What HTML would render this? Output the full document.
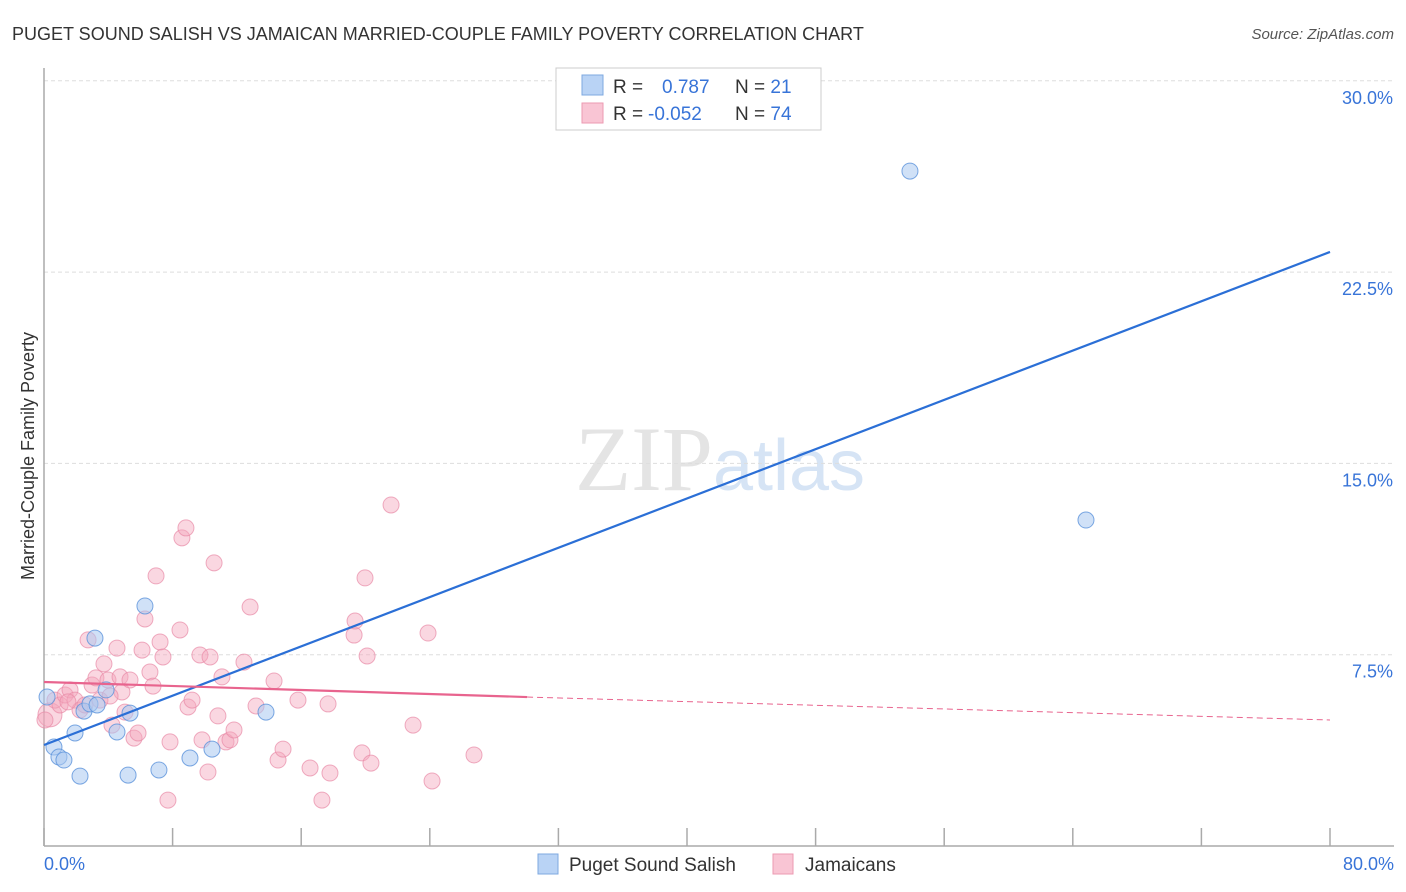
<!DOCTYPE html>
<html><head><meta charset="utf-8"><style>
body{margin:0;background:#fff;font-family:"Liberation Sans",sans-serif}
svg{display:block}
</style></head><body>
<svg id="c" width="1406" height="892" xmlns="http://www.w3.org/2000/svg">
<text x="12" y="40" font-size="18" fill="#333">PUGET SOUND SALISH VS JAMAICAN MARRIED-COUPLE FAMILY POVERTY CORRELATION CHART</text>
<text x="1394" y="39" font-size="15" fill="#555" font-style="italic" text-anchor="end">Source: ZipAtlas.com</text>
<text x="720" y="490" font-size="92" fill="#e4e4e4" text-anchor="middle" font-family="Liberation Serif,serif">ZIP<tspan fill="#d6e4f5" font-family="Liberation Sans,sans-serif" font-size="72">atlas</tspan></text>
<text transform="translate(34,456) rotate(-90)" font-size="18" fill="#333" text-anchor="middle">Married-Couple Family Poverty</text>
<g id="grid"></g><g id="axes"></g><g id="pts"></g><g id="lines"></g>
<g>
<rect x="556" y="68" width="265" height="62" fill="#fff" stroke="#ccc"/>
<rect x="582" y="75" width="21" height="20" fill="#b9d3f5" stroke="#7ea8e0"/>
<rect x="582" y="103" width="21" height="20" fill="#f9c5d4" stroke="#ec9ab2"/>
<text x="613" y="93" font-size="19" fill="#333">R = <tspan fill="#3874d8" x="662">0.787</tspan><tspan x="735" fill="#333">N = </tspan><tspan fill="#3874d8">21</tspan></text>
<text x="613" y="120" font-size="19" fill="#333">R = <tspan fill="#3874d8" x="648">-0.052</tspan><tspan x="735" fill="#333">N = </tspan><tspan fill="#3874d8">74</tspan></text>
</g>
<g>
<rect x="538" y="854" width="20" height="20" fill="#b9d3f5" stroke="#7ea8e0"/>
<text x="569" y="871" font-size="19" fill="#333">Puget Sound Salish</text>
<rect x="773" y="854" width="20" height="20" fill="#f9c5d4" stroke="#ec9ab2"/>
<text x="805" y="871" font-size="19" fill="#333">Jamaicans</text>
</g>
</svg>
<script>
const yTicks=[7.5,15,22.5,30];
const yTickLabels=["7.5%","15.0%","22.5%","30.0%"];
const xTickLabels=["0.0%","80.0%"];
const blueX=[0.19,0.62,0.93,1.24,1.93,2.24,2.49,2.86,3.17,3.30,3.86,4.54,5.23,5.35,6.28,7.15,9.08,10.45,13.81,53.87,64.82];
const blueY=[5.84,3.88,3.49,3.37,4.43,2.74,5.29,5.57,8.15,5.53,6.12,4.47,2.78,5.21,9.41,2.98,3.45,3.80,5.25,26.46,12.78];
const pinkX=[0.37,0.68,1.00,1.31,1.62,1.93,2.24,2.55,2.74,2.99,3.23,3.48,3.73,3.98,4.23,4.54,4.73,4.85,5.04,5.35,5.60,5.85,6.10,6.28,6.59,6.78,6.97,7.22,7.40,7.71,7.84,8.46,8.58,8.83,8.96,9.21,9.70,9.83,10.20,10.33,10.58,10.82,11.07,11.32,11.57,11.82,12.44,12.82,13.19,14.31,14.56,14.87,15.80,16.55,17.29,17.67,17.79,19.29,19.35,19.78,19.97,20.10,20.34,21.59,22.96,23.89,24.14,26.75,0.06,1.49,4.11];
const pinkY=[5.14,5.72,5.53,5.92,6.12,5.72,5.33,5.53,8.08,6.31,6.59,5.72,7.14,6.51,4.74,7.76,6.63,6.04,5.25,6.51,4.23,4.43,7.68,8.90,6.82,6.27,10.59,8.00,7.41,1.80,4.08,8.47,12.08,12.47,5.45,5.72,7.49,4.16,2.90,7.41,11.10,5.10,6.63,4.08,4.16,4.55,7.21,9.37,5.49,6.47,3.37,3.80,5.72,3.06,1.80,5.57,2.86,8.27,8.82,3.65,10.51,7.45,3.25,13.37,4.74,8.35,2.55,3.57,4.94,5.65,5.88];
const blueLine=[[0,3.96],[80,23.29]];
const pinkLine=[[0,6.43],[30.05,5.84],[80,4.94]];
const X=v=>44+v/80*1286, Y=v=>846-v/7.5*191.3;
const NS="http://www.w3.org/2000/svg";
function mk(p,t,a){const e=document.createElementNS(NS,t);for(const k in a)e.setAttribute(k,a[k]);document.getElementById(p).appendChild(e);return e;}
yTicks.forEach((t,i)=>{
 const l=mk('grid','line',{x1:44,x2:1394,y1:Y(t),y2:Y(t),stroke:'#ddd','stroke-dasharray':'4 3'});
 
 
 const tx=mk('grid','text',{x:1393,y:Y(t)+23,'font-size':18,fill:'#3874d8','text-anchor':'end'});
 tx.textContent=yTickLabels[i];
 
 
});
let a=mk('axes','line',{x1:44,x2:44,y1:68,y2:846,stroke:'#aaa','stroke-width':1.5});


a=mk('axes','line',{x1:44,x2:1394,y1:846,y2:846,stroke:'#aaa','stroke-width':1.5});


for(let i=0;i<=10;i++){const t=mk('axes','line',{x1:X(i*8),x2:X(i*8),y1:828,y2:846,stroke:'#aaa','stroke-width':1.5});
 
 }
[[0,'start',44],[80,'end',1394]].forEach((d,i)=>{const t=mk('axes','text',{x:d[2],y:870,'font-size':18,fill:'#3874d8','text-anchor':d[1]});t.textContent=xTickLabels[i];
 
 });
pinkX.forEach((v,i)=>{const c=mk('pts','circle',{cx:X(v),cy:Y(pinkY[i]),r:i==0?12:8,fill:'#f4a6bd','fill-opacity':0.45,stroke:'#e88aa7','stroke-opacity':0.7});
 
 });
blueX.forEach((v,i)=>{const c=mk('pts','circle',{cx:X(v),cy:Y(blueY[i]),r:8,fill:'#a9c8f0','fill-opacity':0.55,stroke:'#5b92db','stroke-opacity':0.8});
 
 });
let l=mk('lines','line',{x1:X(blueLine[0][0]),y1:Y(blueLine[0][1]),x2:X(blueLine[1][0]),y2:Y(blueLine[1][1]),stroke:'#2b6fd6','stroke-width':2.2});


l=mk('lines','line',{x1:X(pinkLine[0][0]),y1:Y(pinkLine[0][1]),x2:X(pinkLine[1][0]),y2:Y(pinkLine[1][1]),stroke:'#e8648e','stroke-width':2.2});


l=mk('lines','line',{x1:X(pinkLine[1][0]),y1:Y(pinkLine[1][1]),x2:X(pinkLine[2][0]),y2:Y(pinkLine[2][1]),stroke:'#e8648e','stroke-width':1,'stroke-dasharray':'6 4'});


</script>
</body></html>
